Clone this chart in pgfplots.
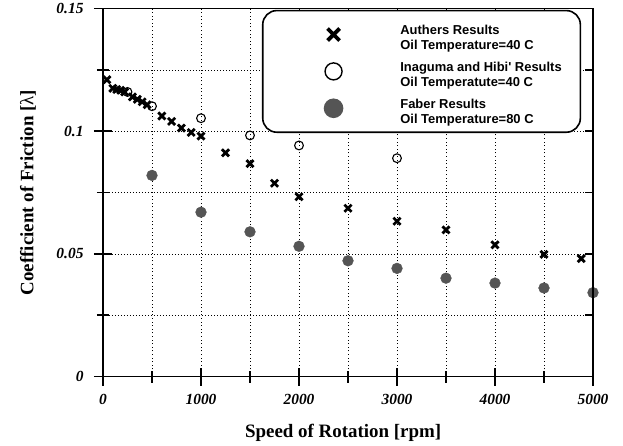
\documentclass[border=0pt]{standalone}
\usepackage{fontspec}
\setmainfont{Liberation Serif}
\newfontfamily\legfont{Liberation Sans}
\usepackage{pgfplots}
\pgfplotsset{compat=1.18}
\definecolor{fab}{RGB}{85,85,85}
\pgfplotsset{myleg/.style={legend image code/.code={\path (0bp,0bp) (134bp,0bp); \draw[##1,#1] plot coordinates {(70bp,0bp)};}}}

\pgfplotstableread{
x y
40 0.1210
100 0.1175
140 0.1170
180 0.1167
220 0.1160
300 0.1140
350 0.1130
400 0.1120
450 0.1108
600 0.1062
700 0.1040
800 0.1013
900 0.0995
1000 0.0980
1250 0.0912
1500 0.0868
1750 0.0788
2000 0.0733
2500 0.0686
3000 0.0633
3500 0.0598
4000 0.0537
4500 0.0498
4880 0.0481
}\authers

\pgfplotstableread{
x y
250 0.1160
500 0.1102
1000 0.1053
1500 0.0983
2000 0.0942
3000 0.0890
}\inaguma

\pgfplotstableread{
x y
500 0.0820
1000 0.0670
1500 0.0590
2000 0.0531
2500 0.0472
3000 0.0441
3500 0.0401
4000 0.0381
4500 0.0361
5000 0.0342
}\faber

\begin{document}
\begin{tikzpicture}
\path (-103bp,-69bp) rectangle (520bp,376bp);
\begin{axis}[
  scale only axis, width=490bp, height=368bp,
  xmin=0, xmax=5000, ymin=0, ymax=0.15,
  xtick={0,1000,2000,3000,4000,5000},
  xticklabels={0,1000,2000,3000,4000,5000},
  ytick={0,0.05,0.1,0.15},
  yticklabels={0,0.05,0.1,0.15},
  minor xtick={500,1500,2500,3500,4500},
  minor ytick={0.025,0.075,0.125},
  grid=both,
  x grid style={black, line width=0.7bp, dash pattern=on 1bp off 2.6bp},
  y grid style={black, line width=0.7bp, dash pattern=on 1.4bp off 1.6bp},
  axis line style={line width=1.6bp},
  every tick/.style={line width=1.6bp, black},
  tick align=center,
  major tick length=18bp, minor tick length=12bp,
  xtick pos=left, ytick pos=left,
  ticklabel style={font=\fontsize{15.5}{16}\selectfont\bfseries\itshape},
  xticklabel style={yshift=-5bp},
  yticklabel style={xshift=-7bp},
  xlabel={Speed of Rotation [rpm]},
  ylabel={Coefficient of Friction [{\mdseries λ}]},
  every axis x label/.style={at={(axis description cs:0.49,-0.152)}, anchor=center,
    font=\fontsize{19}{20}\selectfont\bfseries},
  every axis y label/.style={at={(axis description cs:-0.153,0.5)}, anchor=center, rotate=90,
    font=\fontsize{19}{20}\selectfont\bfseries},
  legend style={at={(axis cs:1622,0.1495)}, anchor=north west, draw=black,
    line width=1.6bp, rounded corners=14bp, fill=white,
    inner xsep=0pt, inner ysep=13bp, row sep=15bp, cells={anchor=west},
    font=\legfont\bfseries\fontsize{13}{14.8}\selectfont},
]
\addplot[only marks, mark=x, mark size=5bp, mark options={line width=2.8bp, black},
  myleg={mark size=8.5bp, mark options={line width=3.8bp, black}}]
  table[x=x,y=y]{\authers};
\addlegendentry{\parbox{178bp}{Authers Results\\Oil Temperature=40 C}}
\addplot[only marks, mark=o, mark size=4.4bp, mark options={line width=1.1bp, black, fill=white},
  myleg={mark size=8.5bp, mark options={line width=1.4bp, black, fill=white}}]
  table[x=x,y=y]{\inaguma};
\addlegendentry{\parbox{178bp}{Inaguma and Hibi' Results\\Oil Temperatute=40 C}}
\addplot[only marks, mark=*, mark size=5.4bp, mark options={draw=fab, fill=fab},
  myleg={mark size=9bp, mark options={draw=fab, fill=fab}}]
  table[x=x,y=y]{\faber};
\addlegendentry{\parbox{178bp}{Faber Results\\Oil Temperature=80 C}}
\end{axis}
\begin{axis}[
  scale only axis, width=490bp, height=368bp,
  xmin=0, xmax=5000, ymin=0, ymax=0.15,
  axis x line=none, axis y line*=right,
  ytick={0,0.05,0.1,0.15}, yticklabels={},
  minor ytick={0.025,0.075,0.125},
  axis line style={line width=1.6bp},
  every tick/.style={line width=1.6bp, black},
  tick align=inside, major tick length=8bp, minor tick length=8bp,
]
\end{axis}
\end{tikzpicture}
\end{document}
